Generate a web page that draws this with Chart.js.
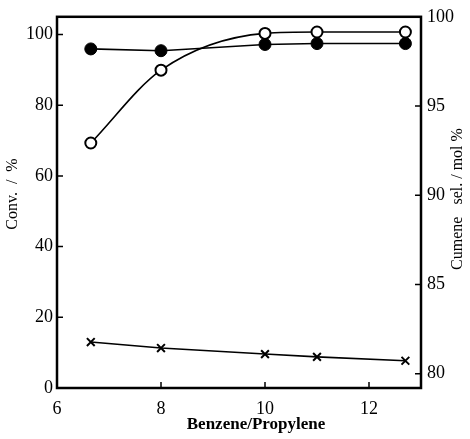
<!DOCTYPE html>
<html>
<head>
<meta charset="utf-8">
<script src="https://cdn.jsdelivr.net/npm/chart.js@4"></script>
<style>
  html, body { margin: 0; padding: 0; background: #fff; }
  #wrap { width: 470px; height: 439px; }
</style>
</head>
<body>
<div id="wrap"><canvas id="chart" width="470" height="439"></canvas></div>
<script>
// benzene/propylene molar ratio
const ratios = [6.65, 8, 10, 11, 12.7];
// propylene conversion, % (open circles, left axis)
const conversion = [69.3, 89.9, 100.3, 100.7, 100.7];
// cumene selectivity, mol% (filled circles, right axis)
const cumeneSel = [98.2, 98.1, 98.45, 98.5, 98.5];
// crosses, left axis
const crossSeries = [13.0, 11.3, 9.6, 8.8, 7.7];

const xTicks = [6, 8, 10, 12];
const leftTicks = [0, 20, 40, 60, 80, 100];
const rightTicks = [80, 85, 90, 95, 100];

const serif = '"Liberation Serif", "DejaVu Serif", serif';

function pts(ys) {
  return ratios.map((x, i) => ({ x: x, y: ys[i] }));
}

// frame, inward tick marks and axis titles
const framePlugin = {
  id: 'frame',
  afterDraw(chart) {
    const ctx = chart.ctx;
    const a = chart.chartArea;
    const s = chart.scales;
    ctx.save();
    ctx.strokeStyle = '#000';
    ctx.lineWidth = 2.5;
    ctx.strokeRect(a.left, a.top, a.right - a.left, a.bottom - a.top);

    ctx.lineWidth = 1.5;
    ctx.beginPath();
    xTicks.forEach(v => {
      const px = s.x.getPixelForValue(v);
      ctx.moveTo(px, a.bottom); ctx.lineTo(px, a.bottom - 6);
    });
    leftTicks.forEach(v => {
      const py = s.y.getPixelForValue(v);
      ctx.moveTo(a.left, py); ctx.lineTo(a.left + 6, py);
    });
    rightTicks.forEach(v => {
      const py = s.y2.getPixelForValue(v);
      ctx.moveTo(a.right, py); ctx.lineTo(a.right - 6, py);
    });
    ctx.stroke();

    ctx.fillStyle = '#000';
    ctx.textAlign = 'center';
    ctx.textBaseline = 'middle';
    ctx.font = 'bold 17px ' + serif;
    ctx.fillText('Benzene/Propylene', 256, 425);

    ctx.font = '16px ' + serif;
    ctx.save();
    ctx.translate(13, 194);
    ctx.rotate(-Math.PI / 2);
    ctx.fillText('Conv.  /  %', 0, 0);
    ctx.restore();

    ctx.save();
    ctx.translate(458, 199);
    ctx.rotate(-Math.PI / 2);
    ctx.fillText('Cumene   sel. / mol %', 0, 0);
    ctx.restore();
    ctx.restore();
  }
};

const tickFont = { family: serif, size: 18 };

new Chart(document.getElementById('chart'), {
  type: 'line',
  data: {
    datasets: [{
      label: 'Conv.',
      data: pts(conversion),
      yAxisID: 'y',
      borderColor: '#000',
      borderWidth: 1.6,
      cubicInterpolationMode: 'monotone',
      pointStyle: 'circle',
      pointRadius: 5.5,
      pointBorderWidth: 2,
      pointBackgroundColor: '#fff',
      pointBorderColor: '#000'
    }, {
      label: 'Cumene sel.',
      data: pts(cumeneSel),
      yAxisID: 'y2',
      borderColor: '#000',
      borderWidth: 1.6,
      tension: 0,
      pointStyle: 'circle',
      pointRadius: 6,
      pointBorderWidth: 1,
      pointBackgroundColor: '#000',
      pointBorderColor: '#000'
    }, {
      label: 'x',
      data: pts(crossSeries),
      yAxisID: 'y',
      borderColor: '#000',
      borderWidth: 1.6,
      tension: 0,
      pointStyle: 'crossRot',
      pointRadius: 5.5,
      pointBorderWidth: 2,
      pointBorderColor: '#000'
    }]
  },
  options: {
    responsive: false,
    animation: false,
    layout: { padding: { top: 15, left: 0, right: 0, bottom: 0 } },
    plugins: { legend: { display: false }, tooltip: { enabled: false } },
    scales: {
      x: {
        type: 'linear',
        min: 6,
        max: 13,
        afterBuildTicks: sc => { sc.ticks = xTicks.map(v => ({ value: v })); },
        afterFit: sc => { sc.height = 51; },
        grid: { display: false, drawTicks: false },
        border: { display: false },
        ticks: { color: '#000', padding: 10, maxRotation: 0, font: tickFont }
      },
      y: {
        position: 'left',
        min: 0,
        max: 105,
        afterBuildTicks: sc => { sc.ticks = leftTicks.map(v => ({ value: v })); },
        afterFit: sc => { sc.width = 57; },
        grid: { display: false, drawTicks: false },
        border: { display: false },
        ticks: { color: '#000', padding: 4, font: tickFont }
      },
      y2: {
        position: 'right',
        min: 79.2,
        max: 100,
        afterBuildTicks: sc => { sc.ticks = rightTicks.map(v => ({ value: v })); },
        afterFit: sc => { sc.width = 49; },
        grid: { display: false, drawTicks: false },
        border: { display: false },
        ticks: { color: '#000', padding: 6, font: tickFont }
      }
    }
  },
  plugins: [framePlugin]
});
</script>
</body>
</html>
